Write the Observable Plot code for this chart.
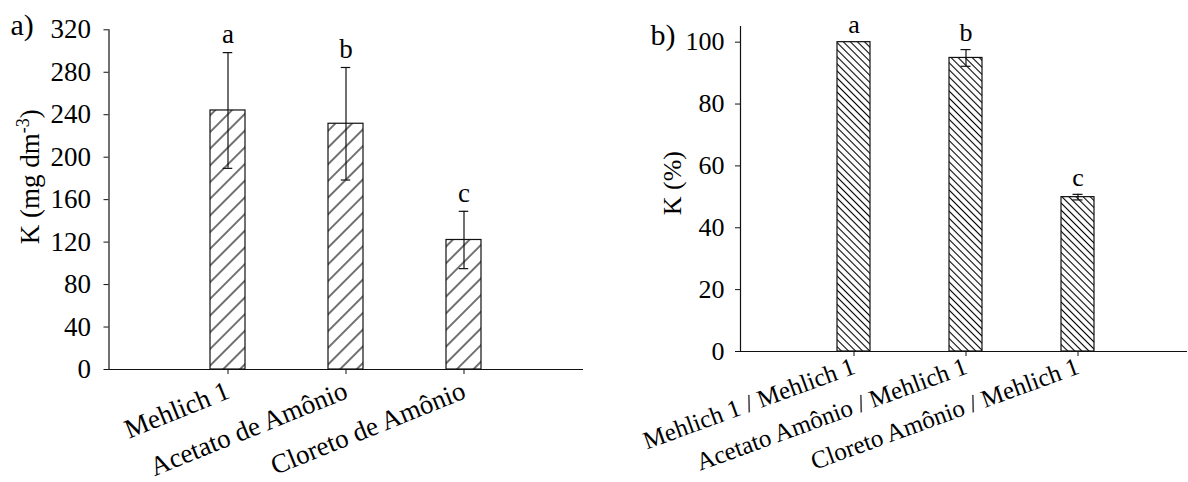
<!DOCTYPE html>
<html>
<head>
<meta charset="utf-8">
<script src="https://cdn.jsdelivr.net/npm/d3@7"></script>
<script src="https://cdn.jsdelivr.net/npm/@observablehq/plot@0.6"></script>
<style>
  html, body { margin: 0; padding: 0; background: #fff; }
  #wrap { display: flex; width: 1188px; height: 482px; }
  #wrap svg { display: block; }
</style>
</head>
<body>
<div id="wrap"></div>
<script>
// ---- Panel a data ----
const catsA = ["Mehlich 1", "Acetato de Amônio", "Cloreto de Amônio"];
const valuesA = [244, 231.5, 122];
const errA = [54.5, 53, 27];
const lettersA = ["a", "b", "c"];
const yTicksA = [0, 40, 80, 120, 160, 200, 240, 280, 320];
const yLabelA = "K (mg dm-3)";

// ---- Panel b data ----
const catsB = ["Mehlich 1 / Mehlich 1", "Acetato Amônio / Mehlich 1", "Cloreto Amônio / Mehlich 1"];
const valuesB = [100, 94.9, 49.9];
const errB = [0, 2.7, 0.9];
const lettersB = ["a", "b", "c"];
const yTicksB = [0, 20, 40, 60, 80, 100];
const yLabelB = "K (%)";

const font = "'Liberation Serif', 'Times New Roman', serif";

function rows(cats, vals, errs, letters) {
  return cats.map((c, i) => ({cat: c, value: vals[i], err: errs[i], letter: letters[i],
    lo: vals[i] - errs[i], hi: vals[i] + errs[i]}));
}

function addPattern(svg, id, spacing, angle) {
  const defs = d3.select(svg).insert("defs", ":first-child");
  const p = defs.append("pattern")
    .attr("id", id)
    .attr("patternUnits", "userSpaceOnUse")
    .attr("width", spacing).attr("height", spacing)
    .attr("patternTransform", `rotate(${angle})`);
  p.append("rect").attr("width", spacing).attr("height", spacing).attr("fill", "white");
  p.append("line").attr("x1", spacing / 2).attr("x2", spacing / 2)
    .attr("y1", -1).attr("y2", spacing + 1)
    .attr("stroke", "#000").attr("stroke-width", 1.1);
}

function superscriptLabel(svg, full, base, sup, tail) {
  d3.select(svg).selectAll("text").filter(function() { return this.textContent === full; })
    .each(function() {
      const t = d3.select(this);
      t.text(null);
      t.append("tspan").text(base);
      t.append("tspan").attr("dy", -10).attr("font-size", 18).text(sup);
      t.append("tspan").attr("dy", 10).text(tail);
    });
}

// ---- Panel a ----
const dataA = rows(catsA, valuesA, errA, lettersA);
const plotA = Plot.plot({
  width: 600,
  height: 482,
  marginLeft: 108.5,
  marginRight: 17,
  marginTop: 29.3,
  marginBottom: 113,
  style: {fontFamily: font, fontSize: "27px", color: "black", background: "white", overflow: "visible"},
  x: {domain: catsA, range: [126.2, 565.2], padding: 0.70, label: null},
  y: {domain: [0, 320], label: null},
  marks: [
    Plot.barY(dataA, {x: "cat", y: "value", fill: "url(#hatchA)", stroke: "#111", strokeWidth: 1.2}),
    Plot.ruleX(dataA, {x: "cat", y1: "lo", y2: "hi", stroke: "#111", strokeWidth: 1.2}),
    Plot.tickY(dataA, {x: "cat", y: "hi", inset: 12.75, stroke: "#111", strokeWidth: 1.2}),
    Plot.tickY(dataA, {x: "cat", y: "lo", inset: 12.75, stroke: "#111", strokeWidth: 1.2}),
    Plot.text(dataA, {x: "cat", y: "hi", text: "letter", dy: -18, lineAnchor: "middle", fontSize: 27}),
    Plot.frame({anchor: "left", stroke: "#111", strokeWidth: 1.2}),
    Plot.ruleY([0], {stroke: "#111", strokeWidth: 1.2}),
    Plot.axisY({ticks: yTicksA, tickSize: 5, tickPadding: 13, label: null, stroke: "#111"}),
    Plot.axisX({tickSize: 5, tickPadding: 15, tickRotate: -22, label: null, stroke: "#111"}),
    Plot.text([yLabelA], {frameAnchor: "left", rotate: -90, dx: -78.5, dy: -23, lineAnchor: "middle", textAnchor: "middle", fontSize: 27}),
    Plot.text(["a)"], {frameAnchor: "top-left", dx: -98.5, dy: -4, textAnchor: "start", lineAnchor: "middle", fontSize: 30})
  ]
});
addPattern(plotA, "hatchA", 11.8, 45);
superscriptLabel(plotA, yLabelA, "K (mg dm", "-3", ")");

// ---- Panel b ----
const dataB = rows(catsB, valuesB, errB, lettersB);
const errDataB = dataB.filter(d => d.err > 0);
const plotB = Plot.plot({
  width: 588,
  height: 482,
  marginLeft: 140,
  marginRight: 1,
  marginTop: 26.2,
  marginBottom: 131,
  style: {fontFamily: font, fontSize: "26px", color: "black", background: "white", overflow: "visible"},
  x: {domain: catsB, range: [157.35, 573.5], padding: 0.702, label: null},
  y: {domain: [0, 105], label: null},
  marks: [
    Plot.barY(dataB, {x: "cat", y: "value", fill: "url(#hatchB)", stroke: "#111", strokeWidth: 1.2}),
    Plot.ruleX(errDataB, {x: "cat", y1: "lo", y2: "hi", stroke: "#111", strokeWidth: 1.2}),
    Plot.tickY(errDataB, {x: "cat", y: "hi", inset: 11.5, stroke: "#111", strokeWidth: 1.2}),
    Plot.tickY(errDataB, {x: "cat", y: "lo", inset: 11.5, stroke: "#111", strokeWidth: 1.2}),
    Plot.text(dataB, {x: "cat", y: "hi", text: "letter", dy: -17, lineAnchor: "middle", fontSize: 26}),
    Plot.frame({anchor: "left", stroke: "#111", strokeWidth: 1.2}),
    Plot.ruleY([0], {stroke: "#111", strokeWidth: 1.2}),
    Plot.axisY({ticks: yTicksB, tickSize: 5, tickPadding: 11, label: null, stroke: "#111"}),
    Plot.axisX({tickSize: 5, tickPadding: 9, tickRotate: -20, fontSize: 25, label: null, stroke: "#111"}),
    Plot.text([yLabelB], {frameAnchor: "left", rotate: -90, dx: -68, dy: -6, lineAnchor: "middle", textAnchor: "middle", fontSize: 26}),
    Plot.text(["b)"], {frameAnchor: "top-left", dx: -90, dy: 9, textAnchor: "start", lineAnchor: "middle", fontSize: 30})
  ]
});
addPattern(plotB, "hatchB", 5, -45);

const wrap = document.getElementById("wrap");
wrap.appendChild(plotA);
wrap.appendChild(plotB);
</script>
</body>
</html>
